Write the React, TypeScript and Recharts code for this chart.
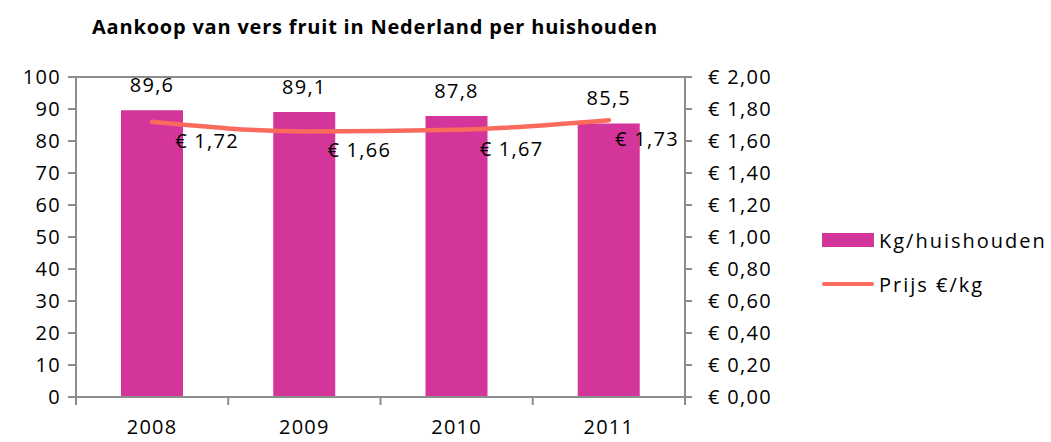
import React from "react";
import {
  ComposedChart,
  Bar,
  Line,
  XAxis,
  YAxis,
  CartesianGrid,
  LabelList,
} from "recharts";

const years = ["2008", "2009", "2010", "2011"];
const kgPerHousehold = [89.6, 89.1, 87.8, 85.5];
const pricePerKg = [1.72, 1.66, 1.67, 1.73];
const leftTicks = [0, 10, 20, 30, 40, 50, 60, 70, 80, 90, 100];
const rightTicks = [0, 0.2, 0.4, 0.6, 0.8, 1.0, 1.2, 1.4, 1.6, 1.8, 2.0];
const title = "Aankoop van vers fruit in Nederland per huishouden";
const barName = "Kg/huishouden";
const lineName = "Prijs €/kg";

const data = years.map((y, i) => ({
  year: y,
  kg: kgPerHousehold[i],
  price: pricePerKg[i],
}));

const FONT = "'Open Sans', sans-serif";
const BAR_COLOR = "#D4359A";
const LINE_COLOR = "#FB6B5D";
const GRID = "#8C8C8C";
const FS = 20;
const LS = 1.3;

const euro = (v: number) => "€ " + v.toFixed(2).replace(".", ",");
const comma = (v: number) => v.toFixed(1).replace(".", ",");

const XTick = (props: any) => {
  const { x, y, payload, index, visibleTicksCount } = props;
  const half = payload.offset || 0;
  return (
    <g>
      <line x1={x - half} x2={x - half} y1={y - 8} y2={y} stroke={GRID} strokeWidth={2} />
      {index === visibleTicksCount - 1 && (
        <line x1={x + half} x2={x + half} y1={y - 8} y2={y} stroke={GRID} strokeWidth={2} />
      )}
      <text x={x} y={y + 29} textAnchor="middle" fontSize={FS} letterSpacing={LS} fill="#000" fontFamily={FONT}>
        {payload.value}
      </text>
    </g>
  );
};

const PriceLabel = (props: any) => {
  const { x, y, value, index } = props;
  const last = index === pricePerKg.length - 1;
  return (
    <text
      x={last ? x + 70 : x + 23}
      y={y + 26}
      textAnchor={last ? "end" : "start"}
      fontSize={FS}
      letterSpacing={LS}
      fill="#000"
      fontFamily={FONT}
    >
      {euro(value)}
    </text>
  );
};

const tickStyle = { fontSize: FS, fill: "#000", fontFamily: FONT, letterSpacing: LS };

export default function App() {
  return (
    <div style={{ position: "absolute", left: 0, top: 0, width: 1051, height: 442, background: "#fff", fontFamily: FONT }}>
      <div
        style={{
          position: "absolute",
          left: 92,
          top: 13,
          fontSize: 20,
          fontWeight: 700,
          letterSpacing: 0.8,
          color: "#000",
          whiteSpace: "nowrap",
        }}
      >
        {title}
      </div>
      <ComposedChart
        width={1051}
        height={442}
        data={data}
        margin={{ top: 77, right: 266, bottom: 0, left: 0 }}
        barCategoryGap={0}
      >
        <CartesianGrid vertical={false} stroke={GRID} strokeWidth={2} />
        <XAxis
          dataKey="year"
          axisLine={{ stroke: GRID, strokeWidth: 2 }}
          tickLine={false}
          tick={<XTick />}
          height={45}
          interval={0}
        />
        <YAxis
          yAxisId="left"
          width={76}
          domain={[0, 100]}
          ticks={leftTicks}
          interval={0}
          axisLine={{ stroke: GRID, strokeWidth: 2 }}
          tickLine={{ stroke: GRID, strokeWidth: 2 }}
          tickSize={8}
          tickMargin={7}
          tick={tickStyle}
        />
        <YAxis
          yAxisId="right"
          orientation="right"
          width={100}
          domain={[0, 2]}
          ticks={rightTicks}
          interval={0}
          axisLine={{ stroke: GRID, strokeWidth: 2 }}
          tickLine={{ stroke: GRID, strokeWidth: 2 }}
          tickSize={7}
          tickMargin={16}
          tickFormatter={euro}
          tick={{ ...tickStyle, textAnchor: "start" }}
        />
        <Bar yAxisId="left" dataKey="kg" name={barName} fill={BAR_COLOR} barSize={62} isAnimationActive={false}>
          <LabelList
            dataKey="kg"
            position="top"
            offset={18}
            formatter={(v: any) => comma(Number(v))}
            style={tickStyle}
          />
        </Bar>
        <Line
          yAxisId="right"
          type="monotone"
          dataKey="price"
          name={lineName}
          stroke={LINE_COLOR}
          strokeWidth={4.5}
          strokeLinecap="round"
          dot={false}
          activeDot={false}
          isAnimationActive={false}
        >
          <LabelList dataKey="price" content={<PriceLabel />} />
        </Line>
      </ComposedChart>
      <div style={{ position: "absolute", left: 822, top: 226, fontSize: 20, letterSpacing: 2, color: "#000" }}>
        <div style={{ display: "flex", alignItems: "center", height: 28 }}>
          <span style={{ display: "inline-block", width: 52, height: 14, background: BAR_COLOR, marginRight: 5 }} />
          <span>{barName}</span>
        </div>
        <div style={{ display: "flex", alignItems: "center", height: 28, marginTop: 16 }}>
          <span style={{ display: "inline-block", width: 52, height: 4.5, borderRadius: 3, background: LINE_COLOR, marginRight: 5 }} />
          <span>{lineName}</span>
        </div>
      </div>
    </div>
  );
}
